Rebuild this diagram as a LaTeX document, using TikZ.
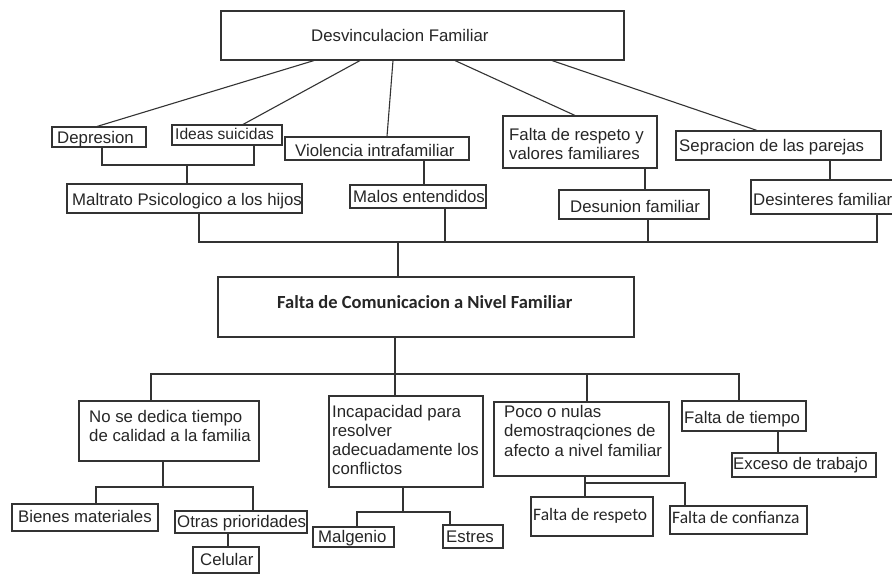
\documentclass[tikz,border=0pt]{standalone}
\usepackage{fontspec}
\setmainfont{Liberation Sans}
\newfontfamily\calibrifont{Carlito}
\usetikzlibrary{fit}
\definecolor{linec}{HTML}{333333}
\definecolor{textc}{HTML}{262626}
\newcommand\ftA{\fontsize{16.8}{19.5}\selectfont}
\newcommand\ftT{\fontsize{16.8}{19}\selectfont}
\newcommand\ftS{\fontsize{15.6}{18}\selectfont}
\newcommand\ftC{\calibrifont\fontsize{17.5}{20}\selectfont}
\newcommand\ftB{\calibrifont\bfseries\fontsize{18.5}{21}\selectfont}
\tikzset{
  box/.style={draw=linec, line width=1.1pt, inner sep=0pt},
  txt/.style={anchor=base west, inner sep=0pt, font=\ftA, text=textc, align=left},
  con/.style={draw=linec, line width=1.1pt}
}
\begin{document}
\begin{tikzpicture}[x=1pt,y=-1pt]
\useasboundingbox (0,0) rectangle (892,574);
\clip (0,0) rectangle (892,574);
\fill[white] (0,0) rectangle (892,574);
% boxes (multi-line texts are placed by the baseline of their last line)
\node[box, fit={(221,11) (624,60)}] (desv) {};
\node[txt] (desvT) at (311,41) {Desvinculacion Familiar};
\node[box, fit={(52,127) (146,147)}] (dep) {};
\node[txt] (depT) at (57,143) {Depresion};
\node[box, fit={(172,125) (282,145)}] (ide) {};
\node[txt, font=\ftS] (ideT) at (175,139) {Ideas suicidas};
\node[box, fit={(285,137) (469,160)}] (vio) {};
\node[txt] (vioT) at (295,156) {Violencia intrafamiliar};
\node[box, fit={(503,116) (657,168)}] (fre) {};
\node[txt] (freT) at (509,159.5) {Falta de respeto y\\valores familiares};
\node[box, fit={(676,131) (881,160)}] (sep) {};
\node[txt] (sepT) at (679,151) {Sepracion de las parejas};
\node[box, fit={(67,184) (302,213)}] (mal) {};
\node[txt] (malT) at (72,205) {Maltrato Psicologico a los hijos};
\node[box, fit={(350,185) (486,208)}] (mae) {};
\node[txt] (maeT) at (353,202) {Malos entendidos};
\node[box, fit={(559,190) (709,219)}] (des) {};
\node[txt] (desT) at (570,212) {Desunion familiar};
\node[box, fit={(751,180) (905,214)}] (din) {};
\node[txt] (dinT) at (753,205) {Desinteres familiar};
\node[box, fit={(218,277) (634,337)}] (fcom) {};
\node[txt, font=\ftB] (fcomT) at (277,308) {Falta de Comunicacion a Nivel Familiar};
\node[box, fit={(79,401) (259,461)}] (nsd) {};
\node[txt] (nsdT) at (89,441.5) {No se dedica tiempo\\de calidad a la familia};
\node[box, fit={(329,396) (483,487)}] (inc) {};
\node[txt, font=\ftT] (incT) at (332,474) {Incapacidad para\\resolver\\adecuadamente los\\conflictos};
\node[box, fit={(494,402) (669,476)}] (poco) {};
\node[txt] (pocoT) at (504,456) {Poco o nulas\\demostraqciones de\\afecto a nivel familiar};
\node[box, fit={(682,401) (806,431)}] (ftie) {};
\node[txt] (ftieT) at (684,423) {Falta de tiempo};
\node[box, fit={(732,453) (876,477)}] (exc) {};
\node[txt] (excT) at (733,469) {Exceso de trabajo};
\node[box, fit={(12,504) (158,531)}] (bien) {};
\node[txt] (bienT) at (18,522) {Bienes materiales};
\node[box, fit={(175,511) (307,533)}] (otr) {};
\node[txt] (otrT) at (177,527) {Otras prioridades};
\node[box, fit={(193,547) (259,573)}] (cel) {};
\node[txt] (celT) at (200,565) {Celular};
\node[box, fit={(313,527) (394,547)}] (malg) {};
\node[txt] (malgT) at (318,542) {Malgenio};
\node[box, fit={(443,525) (503,548)}] (est) {};
\node[txt] (estT) at (446,542) {Estres};
\node[box, fit={(531,497) (653,536)}] (fres) {};
\node[txt, font=\ftC] (fresT) at (533,520) {Falta de respeto};
\node[box, fit={(670,506) (807,534)}] (fcon) {};
\node[txt, font=\ftC] (fconT) at (672,523) {Falta de confianza};
% junctions
\coordinate (j1) at (187,165);
\coordinate (b1) at (398,242);
\coordinate (b2) at (395,374);
\coordinate (j3) at (163,487);
\coordinate (j4) at (403,512);
\coordinate (j5) at (585,483);
% top fan
\draw[con] (desv.south -| 314,0) -- (dep.north -| 97,0);
\draw[con] (desv.south -| 360,0) -- (ide.north -| 243,0);
\draw[con] (desv.south -| 393,0) -- (vio.north -| 387,0);
\draw[con] (desv.south -| 455,0) -- (fre.north -| 575,0);
\draw[con] (desv.south -| 552,0) -- (sep.north -| 757,0);
% second level
\draw[con] (dep.south -| 102,0) |- (j1) -| (ide.south -| 254,0);
\draw[con] (j1) -- (mal.north -| j1);
\draw[con] (vio.south -| 424,0) -- (mae.north -| 424,0);
\draw[con] (fre.south -| 645,0) -- (des.north -| 645,0);
\draw[con] (sep.south -| 830,0) -- (din.north -| 830,0);
% upper bus
\draw[con] (mal.south -| 199,0) |- (b1) -| (din.south -| 877,0);
\draw[con] (mae.south -| 445,0) -- (b1 -| 445,0);
\draw[con] (des.south -| 648,0) -- (b1 -| 648,0);
\draw[con] (b1) -- (fcom.north -| b1);
% lower bus
\draw[con] (fcom.south -| b2) -- (b2);
\draw[con] (nsd.north -| 151,0) |- (b2) -| (ftie.north -| 739,0);
\draw[con] (b2) -- (inc.north -| b2);
\draw[con] (b2 -| 587,0) -- (poco.north -| 587,0);
% children
\draw[con] (nsd.south -| j3) -- (j3);
\draw[con] (bien.north -| 96,0) |- (j3) -| (otr.north -| 253,0);
\draw[con] (otr.south -| 228,0) -- (cel.north -| 228,0);
\draw[con] (inc.south -| j4) -- (j4);
\draw[con] (malg.north -| 357,0) |- (j4) -| (est.north -| 450,0);
\draw[con] (poco.south -| j5) -- (j5) -- (fres.north -| j5);
\draw[con] (j5) -| (fcon.north -| 685,0);
\draw[con] (ftie.south -| 778,0) -- (exc.north -| 778,0);
\end{tikzpicture}
\end{document}
